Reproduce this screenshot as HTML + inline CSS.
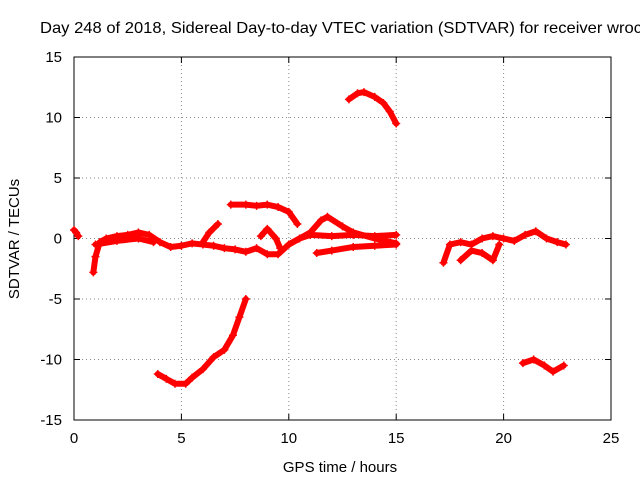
<!DOCTYPE html>
<html><head><meta charset="utf-8"><style>
body{margin:0;background:#fff}
svg text{font-family:"Liberation Sans",sans-serif;font-size:15px;fill:#000}
</style></head><body>
<svg id="c" width="640" height="480">
<rect width="640" height="480" fill="#fff"/>
<text x="40" y="33" textLength="602" lengthAdjust="spacingAndGlyphs" style="font-size:16px">Day 248 of 2018, Sidereal Day-to-day VTEC variation (SDTVAR) for receiver wroc</text>
<g id="grid"></g>
<rect x="74" y="57" width="537" height="363" fill="none" stroke="#000" stroke-width="1"/>
<g id="ticks"></g>
<text x="340" y="472" text-anchor="middle">GPS time / hours</text>
<text transform="translate(19,239) rotate(-90)" text-anchor="middle">SDTVAR / TECUs</text>
<g id="series"></g>
</svg>
<script>
const xTicks=[0,5,10,15,20,25];
const yTicks=[-15,-10,-5,0,5,10,15];
const trackA=[[0,0.7],[0.1,0.5],[0.2,0.2]];
const trackB=[[0.9,-2.8],[1,-1.5],[1.2,-0.3],[1.5,0],[2,0.2],[2.5,0.3],[3,0.5],[3.5,0.3],[4,-0.3],[4.5,-0.7],[5,-0.6],[5.5,-0.4],[6,-0.5],[6.5,-0.6],[7,-0.8],[7.5,-0.9],[8,-1.1],[8.5,-0.8],[9,-1.3],[9.5,-1.3],[10,-0.5],[10.5,0],[11,0.3],[12,0.2],[13,0.3],[14,0.2],[15,0.3]];
const trackC=[[1,-0.5],[2,-0.2],[3,0],[3.7,-0.3]];
const trackD=[[6,-0.3],[6.3,0.5],[6.7,1.2]];
const trackE=[[7.3,2.8],[8,2.8],[8.5,2.7],[9,2.8],[9.5,2.6],[10,2.2],[10.4,1.2]];
const trackF=[[3.9,-11.2],[4.3,-11.6],[4.7,-12],[5.2,-12],[5.5,-11.5],[6,-10.8],[6.5,-9.8],[7,-9.2],[7.4,-8],[7.7,-6.5],[8,-5]];
const trackG=[[12.8,11.5],[13.2,12],[13.5,12.1],[14,11.7],[14.4,11.2],[14.7,10.5],[15,9.5]];
const trackH=[[8.7,0.2],[9,0.8],[9.4,0],[9.6,-0.8]];
const trackI=[[10,-0.5],[11,0.5],[11.5,1.5],[11.8,1.8],[12.5,1],[13,0.5],[14,0],[15,-0.4]];
const trackJ=[[11.3,-1.2],[12,-1],[13,-0.7],[14,-0.6],[15,-0.5]];
const trackK=[[17.2,-2],[17.5,-0.5],[18,-0.3],[18.5,-0.5],[19,0],[19.5,0.2],[20,0],[20.5,-0.2],[21,0.3],[21.5,0.6],[22,0],[22.5,-0.3],[22.9,-0.5]];
const trackL=[[18,-1.8],[18.5,-1],[19,-1.2],[19.5,-1.8],[19.8,-0.5]];
const trackM=[[20.9,-10.3],[21.4,-10],[21.9,-10.5],[22.3,-11],[22.8,-10.5]];
const tracks=[trackA,trackB,trackC,trackD,trackE,trackF,trackG,trackH,trackI,trackJ,trackK,trackL,trackM];
const X=v=>74+v*537/25, Y=v=>238.5-v*363/30;
const NS='http://www.w3.org/2000/svg';
const grid=document.getElementById('grid'),ticks=document.getElementById('ticks'),ser=document.getElementById('series');
function mk(tag,attrs,parent){const e=document.createElementNS(NS,tag);for(const k in attrs)e.setAttribute(k,attrs[k]);parent.appendChild(e);return e;}
xTicks.forEach(t=>{
  if(t>0&&t<25){const g=mk('line',{x1:X(t),x2:X(t),y1:57,y2:420,stroke:'#888','stroke-dasharray':'1,3'},grid);
  
  }
  const l=mk('text',{x:X(t),y:443,'text-anchor':'middle'},ticks);l.textContent=t;
  
  
  mk('line',{x1:X(t),x2:X(t),y1:420,y2:414,stroke:'#000'},ticks);
  mk('line',{x1:X(t),x2:X(t),y1:57,y2:63,stroke:'#000'},ticks);
});
yTicks.forEach(t=>{
  if(t>-15&&t<15){const g=mk('line',{x1:74,x2:611,y1:Y(t),y2:Y(t),stroke:'#888','stroke-dasharray':'1,3'},grid);
  
  }
  const l=mk('text',{x:62,y:Y(t)+5,'text-anchor':'end'},ticks);l.textContent=t;
  
  
  mk('line',{x1:74,x2:80,y1:Y(t),y2:Y(t),stroke:'#000'},ticks);
  mk('line',{x1:611,x2:605,y1:Y(t),y2:Y(t),stroke:'#000'},ticks);
});
tracks.forEach((tr,i)=>{
  const p=mk('polyline',{points:tr.map(d=>X(d[0])+','+Y(d[1])).join(' '),fill:'none',stroke:'#f00','stroke-width':6,'stroke-linejoin':'round','stroke-linecap':'round'},ser);
  
  
  tr.forEach(d=>{
    const m=mk('path',{d:`M${X(d[0])-4},${Y(d[1])}h8M${X(d[0])},${Y(d[1])-4}v8`,stroke:'#f00','stroke-width':1.5},ser);
    
    
  });
});
</script>
</body></html>
